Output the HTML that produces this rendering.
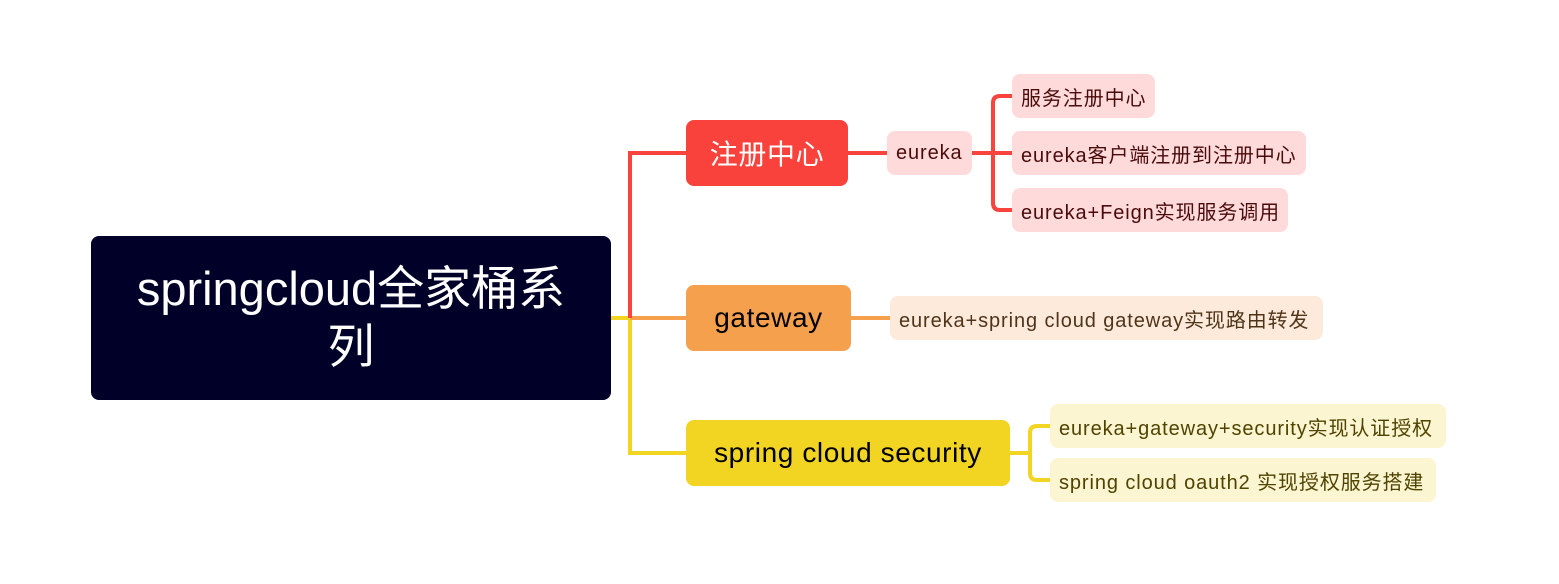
<!DOCTYPE html>
<html><head><meta charset="utf-8"><style>
body{margin:0;width:1559px;height:584px;background:#fff;position:relative;overflow:hidden;font-family:"Liberation Sans","Noto Sans CJK SC",sans-serif;}
.n{position:absolute;box-sizing:border-box;display:flex;align-items:center;justify-content:center;white-space:nowrap;}
.s{font-size:20px;letter-spacing:0.9px;border-radius:8px;justify-content:flex-start;padding-left:9px;}
.m{font-size:28px;letter-spacing:0.6px;border-radius:8px;}
.r{background:#ffdada;color:#4a0b0b;}
.o{background:#fdeadb;color:#4f3419;}
.y{background:#fcf5d2;color:#504300;}
</style></head><body>
<svg width="1559" height="584" style="position:absolute;left:0;top:0">
<g fill="none" stroke-width="4">
<path d="M611 318 H630 V453 H686" stroke="#f2d423"/>
<path d="M630 318 H686" stroke="#f5a04c"/>
<path d="M630 318 V153 H686" stroke="#f8443c"/>
<path d="M848 153 H887" stroke="#f8443c"/>
<path d="M972 153 H1012 M1012 96 H1000 Q993 96 993 103 V203 Q993 210 1000 210 H1012" stroke="#f8443c"/>
<path d="M851 318 H890" stroke="#f5a04c"/>
<path d="M1010 453 H1030 M1050 426 H1037 Q1030 426 1030 433 V473 Q1030 480 1037 480 H1050" stroke="#f2d423"/>
</g></svg>
<div class="n" style="left:91px;top:236px;width:520px;height:164px;background:#000028;border-radius:8px;color:#fff;font-size:47px;text-align:center;line-height:58px;white-space:normal;">springcloud全家桶系<br>列</div>
<div class="n m" style="left:686px;top:120px;width:162px;height:66px;background:#fa423c;color:#fff;">注册中心</div>
<div class="n m" style="left:686px;top:285px;width:165px;height:66px;background:#f5a04c;color:#000;">gateway</div>
<div class="n m" style="left:686px;top:420px;width:324px;height:66px;background:#f2d423;color:#000;">spring cloud security</div>
<div class="n s r" style="left:887px;top:131px;width:85px;height:44px">eureka</div>
<div class="n s r" style="left:1012px;top:74px;width:143px;height:44px">服务注册中心</div>
<div class="n s r" style="left:1012px;top:131px;width:294px;height:44px">eureka客户端注册到注册中心</div>
<div class="n s r" style="left:1012px;top:188px;width:276px;height:44px">eureka+Feign实现服务调用</div>
<div class="n s o" style="left:890px;top:296px;width:433px;height:44px">eureka+spring cloud gateway实现路由转发</div>
<div class="n s y" style="left:1050px;top:404px;width:396px;height:44px">eureka+gateway+security实现认证授权</div>
<div class="n s y" style="left:1050px;top:458px;width:386px;height:44px">spring cloud oauth2 实现授权服务搭建</div>
</body></html>
